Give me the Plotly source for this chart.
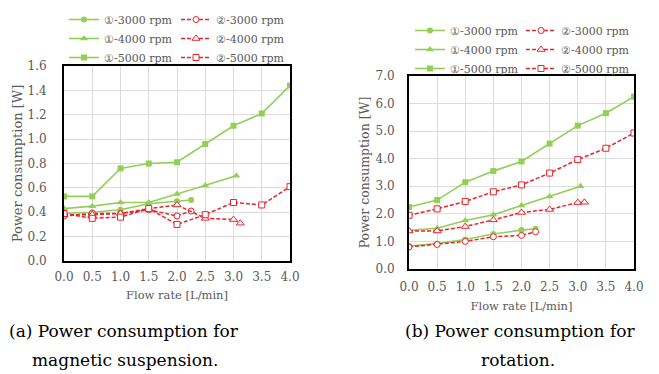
import plotly.graph_objects as go

# ---------------- data ----------------
flow_full = [0.0, 0.5, 1.0, 1.5, 2.0, 2.5, 3.0, 3.5, 4.0]

# (a) magnetic suspension
a_m3_x = [0.0, 0.5, 1.0, 1.5, 2.0, 2.25]
a_m3_y = [0.39, 0.40, 0.42, 0.47, 0.49, 0.50]
a_m4_x = [0.0, 0.5, 1.0, 1.5, 2.0, 2.5, 3.05]
a_m4_y = [0.43, 0.45, 0.48, 0.48, 0.55, 0.62, 0.70]
a_m5_x = flow_full
a_m5_y = [0.53, 0.53, 0.76, 0.80, 0.81, 0.96, 1.11, 1.21, 1.44]
a_r3_x = [0.0, 0.5, 1.0, 1.5, 2.0, 2.25]
a_r3_y = [0.37, 0.39, 0.39, 0.42, 0.37, 0.41]
a_r4_x = [0.0, 0.5, 1.0, 1.5, 2.0, 2.5, 3.0, 3.12]
a_r4_y = [0.38, 0.38, 0.39, 0.43, 0.46, 0.35, 0.34, 0.31]
a_r5_x = flow_full
a_r5_y = [0.39, 0.35, 0.36, 0.43, 0.30, 0.38, 0.48, 0.46, 0.61]

# (b) rotation
b_m3_x = [0.0, 0.5, 1.0, 1.5, 2.0, 2.25]
b_m3_y = [0.83, 0.92, 1.07, 1.27, 1.41, 1.46]
b_m4_x = [0.0, 0.5, 1.0, 1.5, 2.0, 2.5, 3.05]
b_m4_y = [1.40, 1.48, 1.76, 1.97, 2.30, 2.63, 3.00]
b_m5_x = flow_full
b_m5_y = [2.25, 2.50, 3.15, 3.55, 3.90, 4.55, 5.20, 5.65, 6.25]
b_r3_x = [0.0, 0.5, 1.0, 1.5, 2.0, 2.25]
b_r3_y = [0.80, 0.89, 1.00, 1.17, 1.22, 1.35]
b_r4_x = [0.0, 0.5, 1.0, 1.5, 2.0, 2.5, 3.0, 3.12]
b_r4_y = [1.38, 1.38, 1.54, 1.78, 2.05, 2.16, 2.41, 2.42]
b_r5_x = flow_full
b_r5_y = [1.95, 2.18, 2.45, 2.80, 3.05, 3.48, 3.97, 4.38, 4.93]

names_1 = ["①-3000 rpm", "①-4000 rpm", "①-5000 rpm"]
names_2 = ["②-3000 rpm", "②-4000 rpm", "②-5000 rpm"]
x_ticks = [0.0, 0.5, 1.0, 1.5, 2.0, 2.5, 3.0, 3.5, 4.0]
a_y_ticks = [0.0, 0.2, 0.4, 0.6, 0.8, 1.0, 1.2, 1.4, 1.6]
b_y_ticks = [0.0, 1.0, 2.0, 3.0, 4.0, 5.0, 6.0, 7.0]
captions = [
    ("(a) Power consumption for", 124, 331),
    ("magnetic suspension.", 125, 360),
    ("(b) Power consumption for", 520, 331),
    ("rotation.", 518, 360),
]

GREEN = "#92CF55"
RED = "#E8242C"
GRAY = "#595959"
SERIF = "DejaVu Serif"
W, H = 659, 374

symbols = ["circle", "triangle-up", "square"]

fig = go.Figure()

def add_group(xs, ys, names, xa, ya, legend, solid):
    for (x, y), nm, sym in zip(zip(xs, ys), names, symbols):
        size = 7 if sym == "triangle-up" else 6
        if solid:
            fig.add_trace(go.Scatter(
                x=x, y=y, name=nm, mode="lines+markers",
                xaxis=xa, yaxis=ya, legend=legend,
                line=dict(color=GREEN, width=1.6),
                marker=dict(symbol=sym, size=size, color=GREEN),
            ))
        else:
            fig.add_trace(go.Scatter(
                x=x, y=y, name=nm, mode="lines+markers",
                xaxis=xa, yaxis=ya, legend=legend,
                line=dict(color=RED, width=1.5, dash="4px,2px"),
                marker=dict(symbol=sym, size=size, color="white",
                            line=dict(color=RED, width=1)),
            ))

add_group([a_m3_x, a_m4_x, a_m5_x], [a_m3_y, a_m4_y, a_m5_y], names_1, "x", "y", "legend", True)
add_group([a_r3_x, a_r4_x, a_r5_x], [a_r3_y, a_r4_y, a_r5_y], names_2, "x", "y", "legend2", False)
add_group([b_m3_x, b_m4_x, b_m5_x], [b_m3_y, b_m4_y, b_m5_y], names_1, "x2", "y2", "legend3", True)
add_group([b_r3_x, b_r4_x, b_r5_x], [b_r3_y, b_r4_y, b_r5_y], names_2, "x2", "y2", "legend4", False)

def px_x(p):
    return p / W

def px_y(p):
    return 1 - p / H

axis_common = dict(
    showline=True, mirror=True, linecolor="black", linewidth=2,
    showgrid=True, gridcolor="#DCDCDC", gridwidth=1,
    zeroline=False, ticks="", automargin=False,
)

def tf(size):
    return dict(size=size, family=SERIF, color=GRAY)

fig.update_layout(
    template="none",
    width=W, height=H,
    margin=dict(l=0, r=0, t=0, b=0, autoexpand=False),
    paper_bgcolor="white", plot_bgcolor="white",
    font=dict(family=SERIF, color=GRAY),
    xaxis=dict(domain=[px_x(64), px_x(290)], anchor="y", range=[0, 4],
               tickvals=x_ticks, ticktext=[f"{v:.1f}" for v in x_ticks],
               tickfont=tf(12), ticklabelstandoff=4,
               title=dict(text="Flow rate [L/min]", font=tf(11.5), standoff=8),
               **axis_common),
    yaxis=dict(domain=[px_y(261), px_y(66)], anchor="x", range=[0, 1.6],
               tickvals=a_y_ticks, ticktext=[f"{v:.1f}" for v in a_y_ticks],
               tickfont=tf(12), ticklabelstandoff=13,
               title=dict(text="Power consumption [W]", font=tf(13), standoff=2),
               **axis_common),
    xaxis2=dict(domain=[px_x(409), px_x(634)], anchor="y2", range=[0, 4],
                tickvals=x_ticks, ticktext=[f"{v:.1f}" for v in x_ticks],
                tickfont=tf(12), ticklabelstandoff=6,
                title=dict(text="Flow rate [L/min]", font=tf(11.5), standoff=9),
                **axis_common),
    yaxis2=dict(domain=[px_y(269), px_y(76)], anchor="x2", range=[0, 7],
                tickvals=b_y_ticks, ticktext=[f"{v:.1f}" for v in b_y_ticks],
                tickfont=tf(12), ticklabelstandoff=10,
                title=dict(text="Power consumption [W]", font=tf(12.5), standoff=3),
                **axis_common),
)

leg_common = dict(
    orientation="v", xanchor="left", yanchor="top",
    bgcolor="rgba(0,0,0,0)", borderwidth=0,
    font=tf(11), tracegroupgap=0, itemwidth=30,
)
fig.update_layout(
    legend=dict(x=px_x(64), y=px_y(5), **leg_common),
    legend2=dict(x=px_x(176), y=px_y(5), **leg_common),
    legend3=dict(x=px_x(410), y=px_y(16), **leg_common),
    legend4=dict(x=px_x(521), y=px_y(16), **leg_common),
)

for txt, cx, cy in captions:
    fig.add_annotation(
        text=txt, x=px_x(cx), y=px_y(cy), xref="paper", yref="paper",
        xanchor="center", yanchor="middle", showarrow=False,
        font=dict(size=17, family=SERIF, color="black"),
    )

fig.write_html("out.html", config={"displayModeBar": False},
               post_script="document.body.style.margin='0';")
